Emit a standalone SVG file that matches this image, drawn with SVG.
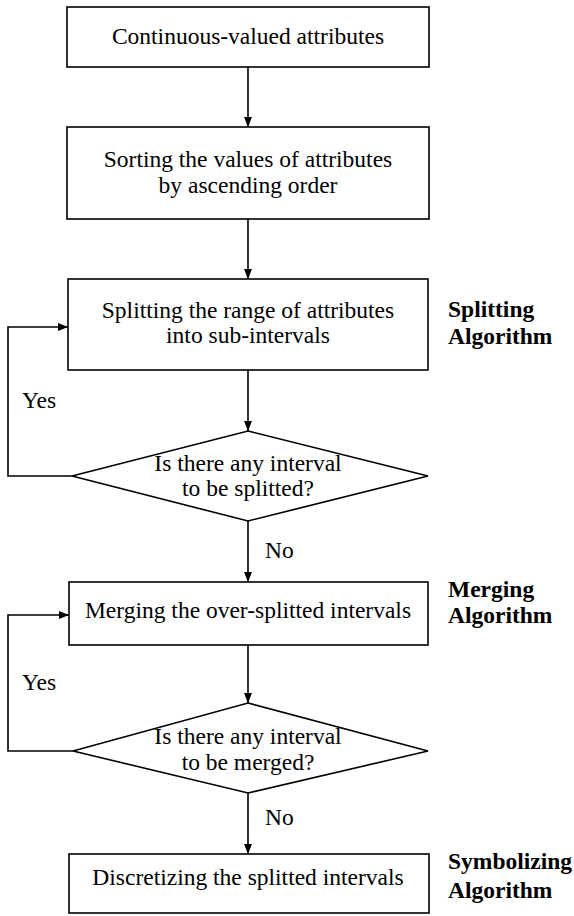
<svg xmlns="http://www.w3.org/2000/svg" width="574" height="916" viewBox="0 0 574 916">
  <style>
    .box { fill: #fff; stroke: #000; stroke-width: 1.6; }
    .t { font-family: "Liberation Serif", "Times New Roman", serif; font-size: 23.5px; fill: #000; }
    .c { text-anchor: middle; }
    .b { font-weight: bold; }
    .ln { fill: none; stroke: #000; stroke-width: 1.6; }
  </style>
  <defs>
    <marker id="arrow" markerUnits="userSpaceOnUse" markerWidth="12" markerHeight="10" refX="10" refY="4" orient="auto">
      <path d="M0,0 L10,4 L0,8 z" fill="#000"/>
    </marker>
  </defs>
  <rect width="574" height="916" fill="#fff"/>

  <!-- connectors -->
  <g id="connectors">
    <line class="ln" x1="248" y1="67" x2="248" y2="127" marker-end="url(#arrow)"/>
    <line class="ln" x1="248" y1="219" x2="248" y2="279" marker-end="url(#arrow)"/>
    <line class="ln" x1="248" y1="370" x2="248" y2="431" marker-end="url(#arrow)"/>
    <polyline class="ln" points="72,476 8,476 8,327 68,327" marker-end="url(#arrow)"/>
    <line class="ln" x1="248" y1="521" x2="248" y2="582" marker-end="url(#arrow)"/>
    <line class="ln" x1="248" y1="645" x2="248" y2="703" marker-end="url(#arrow)"/>
    <polyline class="ln" points="73,751 8,751 8,615 69,615" marker-end="url(#arrow)"/>
    <line class="ln" x1="248" y1="793" x2="248" y2="854" marker-end="url(#arrow)"/>
    <text class="t" x="22" y="408">Yes</text>
    <text class="t" x="265" y="558">No</text>
    <text class="t" x="22" y="690">Yes</text>
    <text class="t" x="265" y="825">No</text>
  </g>

  <!-- nodes -->
  <g id="input">
    <rect class="box" x="67" y="7" width="362" height="60"/>
    <text class="t c" x="248" y="44">Continuous-valued attributes</text>
  </g>
  <g id="sort">
    <rect class="box" x="67" y="127" width="362" height="92"/>
    <text class="t c" x="248" y="167">Sorting the values of attributes</text>
    <text class="t c" x="248" y="193">by ascending order</text>
  </g>
  <g id="split">
    <rect class="box" x="68" y="279" width="360" height="91"/>
    <text class="t c" x="248" y="318">Splitting the range of attributes</text>
    <text class="t c" x="248" y="343">into sub-intervals</text>
  </g>
  <g id="split-check">
    <polygon class="box" points="248,431 428,476 248,521 72,476"/>
    <text class="t c" x="248" y="471">Is there any interval</text>
    <text class="t c" x="248" y="496">to be splitted?</text>
  </g>
  <g id="merge">
    <rect class="box" x="69" y="582" width="359" height="63"/>
    <text class="t c" x="248" y="618">Merging the over-splitted intervals</text>
  </g>
  <g id="merge-check">
    <polygon class="box" points="248,703 428,751 248,793 73,751"/>
    <text class="t c" x="248" y="744">Is there any interval</text>
    <text class="t c" x="248" y="770">to be merged?</text>
  </g>
  <g id="discretize">
    <rect class="box" x="69" y="854" width="360" height="59"/>
    <text class="t c" x="248" y="885">Discretizing the splitted intervals</text>
  </g>

  <!-- stage labels -->
  <g id="stage-split">
    <text class="t b" x="448" y="317">Splitting</text>
    <text class="t b" x="448" y="344">Algorithm</text>
  </g>
  <g id="stage-merge">
    <text class="t b" x="448" y="597">Merging</text>
    <text class="t b" x="448" y="623">Algorithm</text>
  </g>
  <g id="stage-symbol">
    <text class="t b" x="448" y="869">Symbolizing</text>
    <text class="t b" x="448" y="898">Algorithm</text>
  </g>
</svg>
